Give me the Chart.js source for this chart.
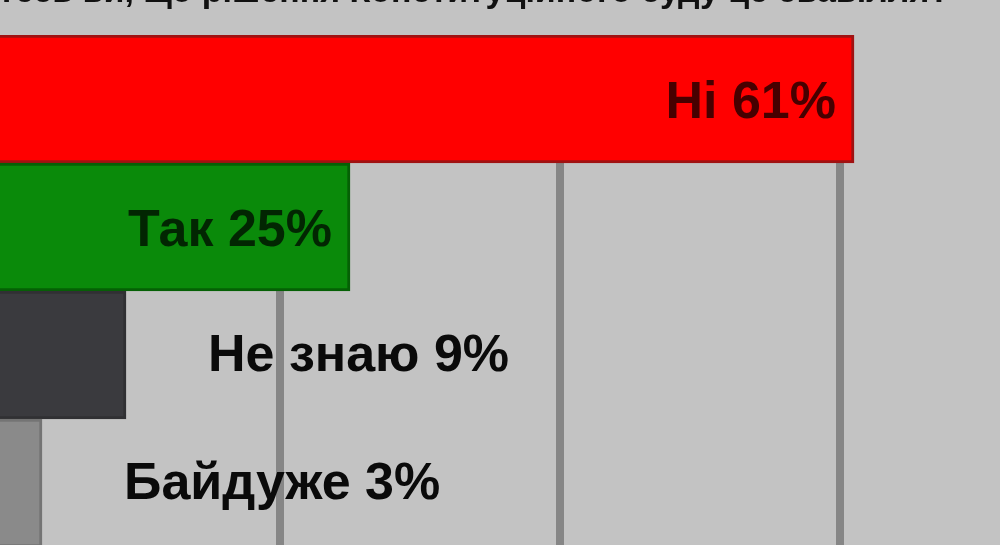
<!DOCTYPE html>
<html>
<head>
<meta charset="utf-8">
<script src="https://cdn.jsdelivr.net/npm/chart.js@4"></script>
<style>
	html, body { margin: 0; padding: 0; background: #c3c3c3; overflow: hidden; width: 1000px; height: 545px; }
	#wrap { position: absolute; left: 0; top: -40px; width: 1120px; height: 590px; }
</style>
</head>
<body>
<div id="wrap"><canvas id="poll" width="1120" height="590"></canvas></div>
<script>
	// poll answers, top to bottom
	const answers = ['Ні', 'Так', 'Не знаю', 'Байдуже'];
	const percents = [61, 25, 9, 3];
	const barColors = ['#ff0000', '#0a8a0a', '#3a3a3e', '#8a8a8a'];
	const edgeColors = ['#a01212', '#056005', '#303033', '#747474'];
	const gridSteps = [20, 40, 60];
	const question = 'Чи погоджуєтесь ви, що рішення Конституційного суду це свавілля?';

	// cut-off question line above the bars
	const questionPlugin = {
		id: 'question',
		afterDraw(chart) {
			const ctx = chart.ctx;
			ctx.save();
			ctx.font = 'bold 34px "Liberation Sans", Arial, sans-serif';
			ctx.fillStyle = '#111';
			ctx.textAlign = 'right';
			ctx.textBaseline = 'alphabetic';
			ctx.fillText(question, 950, chart.chartArea.top - 33);
			ctx.restore();
		}
	};

	// "Ні 61%" inside the bar when it fits, otherwise after it
	const answerLabels = {
		id: 'answerLabels',
		afterDatasetsDraw(chart) {
			const ctx = chart.ctx;
			const meta = chart.getDatasetMeta(0);
			ctx.save();
			ctx.font = 'bold 52px "Liberation Sans", Arial, sans-serif';
			ctx.textBaseline = 'middle';
			meta.data.forEach(function (bar, i) {
				const txt = answers[i] + ' ' + percents[i] + '%';
				const w = ctx.measureText(txt).width;
				const len = bar.x - bar.base;
				if (w + 30 < len) {
					ctx.textAlign = 'right';
					ctx.fillStyle = 'rgba(0,0,0,0.72)';
					ctx.fillText(txt, bar.x - 18, bar.y + 5);
				} else {
					ctx.textAlign = 'left';
					ctx.fillStyle = '#0a0a0a';
					ctx.fillText(txt, bar.x + 82, bar.y + 2);
				}
			});
			ctx.restore();
		}
	};

	let ctx = document.getElementById('poll').getContext('2d');

	let chart = new Chart(ctx, {
		type: 'bar',
		data: {
			labels: answers,
			datasets: [{
				data: percents,
				backgroundColor: barColors,
				borderColor: edgeColors,
				borderWidth: 3,
				borderSkipped: 'start',
				barPercentage: 1,
				categoryPercentage: 1
			}]
		},
		options: {
			indexAxis: 'y',
			animation: false,
			responsive: false,
			devicePixelRatio: 1,
			layout: {
				padding: { top: 75, bottom: 3, left: 0, right: 0 }
			},
			plugins: {
				legend: { display: false },
				tooltip: { enabled: false },
				title: { display: false }
			},
			scales: {
				x: {
					min: 0,
					max: 80,
					afterBuildTicks: function (axis) {
						axis.ticks = gridSteps.map(function (v) { return { value: v }; });
					},
					ticks: { display: false },
					border: { display: false },
					grid: {
						color: '#868686',
						lineWidth: 8,
						drawTicks: false
					}
				},
				y: {
					display: false
				}
			}
		},
		plugins: [questionPlugin, answerLabels]
	});
</script>
</body>
</html>
